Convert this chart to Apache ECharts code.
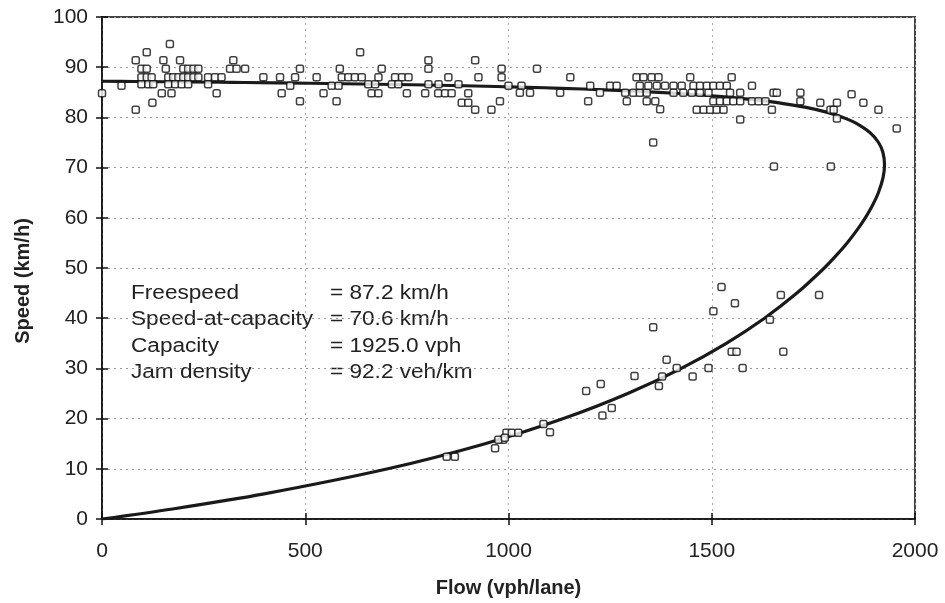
<!DOCTYPE html>
<html>
<head>
<meta charset="utf-8">
<script src="https://cdn.jsdelivr.net/npm/echarts@6/dist/echarts.min.js"></script>
<style>
html,body{margin:0;padding:0;background:#fff;}
#chart{width:945px;height:603px;}
</style>
</head>
<body>
<div id="chart"></div>
<script>
// Observed data points (flow vph/lane, speed km/h)
const obsFlow = [
0,48,83,83,97,110,97,110,122,97,114,126,110,124,151,157,167,163,175,188,200,212,225,237,163,180,196,212,147,171,192,200,212,225,237,261,278,294,261,282,315,331,352,323,397,438,442,463,475,487,487,528,545,565,582,577,585,590,606,622,639,635,655,672,663,680,680,688,721,738,754,713,729,750,795,803,828,803,803,827,844,860,852,877,885,901,901,918,926,918,958,983,983,979,1000,
1032,1028,1053,1070,1127,1152,1201,1196,1225,1250,1266,1291,1287,1307,1323,1340,1315,1332,1352,1369,1323,1344,1365,1385,1406,1426,1340,1361,1373,1406,1430,1451,1471,1492,1447,1455,1463,1480,1496,1512,1529,1471,1488,1504,1520,1537,1504,1520,1537,1553,1570,1549,1545,1570,1570,1599,1599,1615,1632,1648,1652,1660,1718,1718,1767,1792,1800,1808,1808,1844,1873,1910,1955,
1356,1653,1793,1524,1670,1764,1557,1504,1643,1356,1549,1561,1676,1389,1414,1492,1576,1310,1378,1453,1227,1191,1370,1231,1254,1086,1102,995,1008,1024,987,975,991,967,848,868
];
const obsSpeed = [
84.8,86.3,91.4,81.5,89.7,89.7,88,88,88,86.6,86.6,86.6,93,82.9,91.4,89.7,94.6,88,88,88,88,88,88,88,86.6,86.6,86.6,86.6,84.8,84.8,91.4,89.7,89.7,89.7,89.7,88,88,88,86.6,84.8,89.7,89.7,89.7,91.4,88,88,84.8,86.3,88,89.7,83.2,88,84.8,86.3,86.3,83.2,89.7,88,88,88,88,93,86.6,86.6,84.8,84.8,88,89.7,88,88,88,86.6,86.6,84.8,84.8,86.6,86.6,91.4,89.7,84.8,84.8,84.8,88,86.6,82.9,82.9,84.8,91.4,88,81.5,81.5,89.7,88,83.2,86.3,
86.3,84.9,84.9,89.7,84.9,88,86.3,83.2,84.9,86.3,86.3,83.2,84.9,84.9,84.9,84.9,88,88,88,88,86.3,86.3,86.3,86.3,86.3,86.3,83.2,83.2,81.6,84.9,84.9,84.9,84.9,84.9,88,86.3,81.5,81.5,81.5,81.5,81.5,86.3,86.3,86.3,86.3,86.3,83.2,83.2,83.2,83.2,83.2,88,84.9,84.9,79.6,86.3,83.2,83.2,83.2,81.5,84.9,84.9,84.9,83.2,82.9,81.5,81.5,79.8,82.9,84.6,82.9,81.5,77.8,
75.0,70.2,70.2,46.2,44.6,44.6,43.0,41.4,39.7,38.2,33.3,33.3,33.3,31.7,30.1,30.1,30.1,28.5,28.4,28.4,26.9,25.5,26.5,20.6,22.1,18.9,17.3,17.2,17.2,17.2,15.8,15.8,16.2,14.1,12.4,12.4
];
// Fitted speed-flow curve
const curveSpeed = [0,2,5,10,15,20,25,30,35,40,45,50,52.5,55,57.5,60,62.5,65,68,70.6,73,75,77,79,80,81,82,83,83.5,84,84.5,85,85.5,85.8,86,86.3,86.5,86.8,86.95,87,87.1,87.15,87.2];
const curveFlow  = [0,173.6,399.0,703.2,942.4,1135.1,1293.3,1425.0,1535.8,1629.8,1709.5,1776.9,1806.3,1833.0,1856.8,1877.8,1895.6,1909.9,1921.4,1925.0,1921.1,1910.3,1889.0,1851.3,1822.9,1784.6,1732.2,1657.9,1608.5,1547.4,1470.2,1370.1,1235.6,1130.6,1046.5,891.5,762.3,511.8,350.5,289.6,155.0,80.3,0];
// Annotation text
const statLabels = ['Freespeed','Speed-at-capacity','Capacity','Jam density'];
const statValues = ['= 87.2 km/h','= 70.6 km/h','= 1925.0 vph','= 92.2 veh/km'];
const xName = 'Flow (vph/lane)';
const yName = 'Speed (km/h)';

const FONT = '"Liberation Sans", Arial, Helvetica, sans-serif';
const chart = echarts.init(document.getElementById('chart'));

const scatterData = obsFlow.map((f,i)=>[f, obsSpeed[i]]);
const curveData = curveFlow.map((f,i)=>[f, curveSpeed[i]]);

const graphics = [];
statLabels.forEach((t,i)=>{
  graphics.push({type:'text', x:131, y:293 + i*26.5, scaleX:1.13,
    style:{text:t, font:'20px '+FONT, fill:'#222', textVerticalAlign:'middle', verticalAlign:'middle'}});
  graphics.push({type:'text', x:330, y:293 + i*26.5, scaleX:1.13,
    style:{text:statValues[i], font:'20px '+FONT, fill:'#222', textVerticalAlign:'middle', verticalAlign:'middle'}});
});
graphics.push({type:'text', x:23, y:281, rotation:Math.PI/2,
  style:{text:yName, font:'bold 20px '+FONT, fill:'#222', align:'center', verticalAlign:'middle', textAlign:'center', textVerticalAlign:'middle'}});

chart.setOption({
  animation:false,
  backgroundColor:'#fff',
  grid:{left:102, right:30, top:17, bottom:84, show:true, borderColor:'#444', borderWidth:2, backgroundColor:'transparent'},
  xAxis:[{
    type:'value', min:0, max:2000, interval:500, position:'bottom',
    name:xName, nameLocation:'middle', nameGap:59,
    nameTextStyle:{fontFamily:FONT, fontWeight:'bold', fontSize:20, color:'#222'},
    axisLine:{show:true, onZero:false, lineStyle:{color:'#111', width:1.5}},
    axisTick:{show:true, inside:false, length:6, lineStyle:{color:'#111', width:1.5}},
    axisLabel:{fontFamily:FONT, fontSize:21, color:'#222', margin:22, formatter:v=>String(v)},
    splitLine:{show:true, lineStyle:{color:'#aaa', type:[2,4], width:1}}
  },{
    type:'value', min:0, max:2000, interval:500, position:'bottom', offset:0,
    axisLine:{show:false}, axisLabel:{show:false}, splitLine:{show:false},
    axisTick:{show:true, inside:true, length:6, lineStyle:{color:'#111', width:1.5}}
  }],
  yAxis:[{
    type:'value', min:0, max:100, interval:10, position:'left',
    axisLine:{show:true, onZero:false, lineStyle:{color:'#111', width:1.5}},
    axisTick:{show:true, inside:false, length:6, lineStyle:{color:'#111', width:1.5}},
    axisLabel:{fontFamily:FONT, fontSize:21, color:'#222', margin:14, formatter:v=>String(v)},
    splitLine:{show:true, lineStyle:{color:'#999', type:[2,4], width:1}}
  },{
    type:'value', min:0, max:100, interval:10, position:'left', offset:0,
    axisLine:{show:false}, axisLabel:{show:false}, splitLine:{show:false},
    axisTick:{show:true, inside:true, length:6, lineStyle:{color:'#111', width:1.5}}
  }],
  graphic:graphics,
  series:[
    {type:'line', data:curveData, showSymbol:false, symbol:'none', smooth:0.3,
     lineStyle:{color:'#1a1a1a', width:3.2}, z:3},
    {type:'scatter', data:scatterData, symbol:'roundRect', symbolSize:7,
     itemStyle:{color:'#fff', borderColor:'#111', borderWidth:1.5}, z:4}
  ]
});
</script>
</body>
</html>
